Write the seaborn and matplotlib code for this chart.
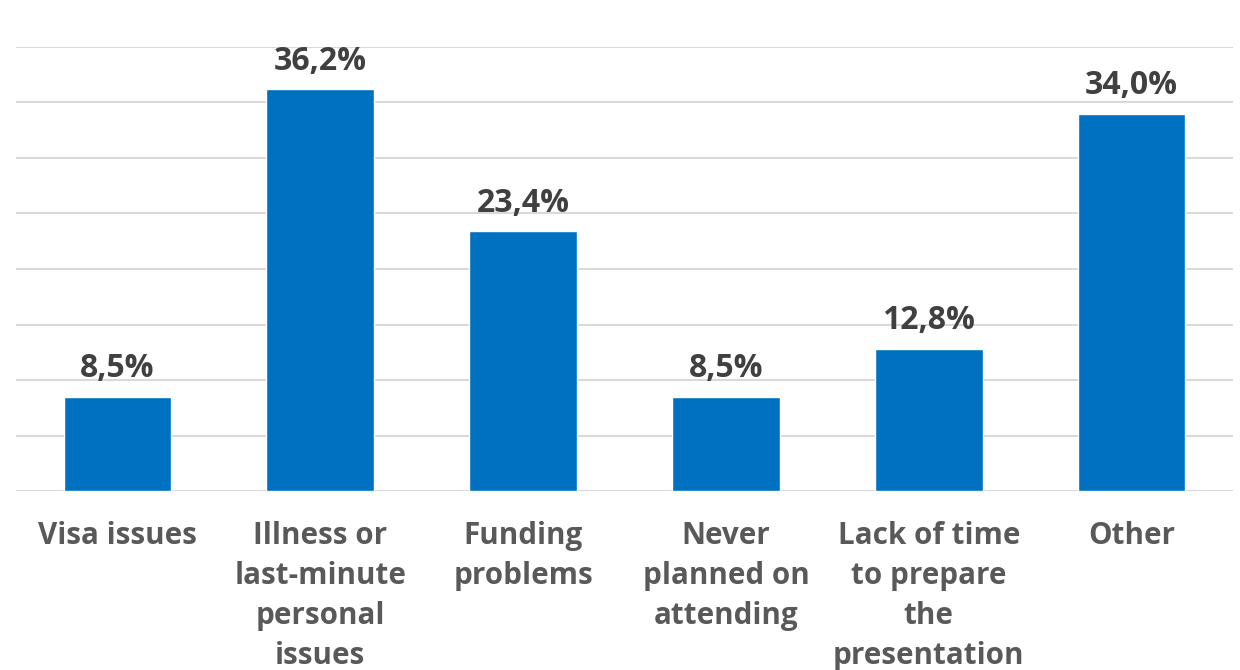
import matplotlib
matplotlib.use("Agg")
import matplotlib.pyplot as plt
import seaborn as sns
import pandas as pd

categories = ["Visa issues", "Illness or\nlast-minute\npersonal\nissues", "Funding\nproblems",
              "Never\nplanned on\nattending", "Lack of time\nto prepare\nthe\npresentation", "Other"]
values = [8.5, 36.2, 23.4, 8.5, 12.8, 34.0]
value_labels = ["8,5%", "36,2%", "23,4%", "8,5%", "12,8%", "34,0%"]

sns.set_theme(style="white")
plt.rcParams['font.family'] = ['Open Sans', 'DejaVu Sans']

df = pd.DataFrame({"cat": categories, "val": values})

fig = plt.figure(figsize=(12.4, 6.7), dpi=100)
ax = fig.add_axes([16/1240, 1-491/670, (1233-16)/1240, (491-47)/670])

sns.barplot(data=df, x="cat", y="val", color="#0070C0", saturation=1, width=0.53, ax=ax)

ax.set_ylim(0, 40)
ax.set_xlim(-0.5, 5.5)
ax.set_yticks(range(0, 41, 5))
ax.yaxis.grid(True, color="#D9D9D9", linewidth=1.5)
ax.set_axisbelow(True)
ax.set_yticklabels([])
ax.tick_params(axis="y", length=0)
ax.tick_params(axis="x", length=0, pad=21.5)
for s in ax.spines.values():
    s.set_visible(False)
ax.set_xlabel("")
ax.set_ylabel("")
for lbl in ax.get_xticklabels():
    lbl.set_fontsize(21.3)
    lbl.set_fontweight("bold")
    lbl.set_color("#595959")
    lbl.set_linespacing(1.43)
    lbl.set_va("top")

for i, (v, t) in enumerate(zip(values, value_labels)):
    ax.annotate(t, (i, v), xytext=(0, 14), textcoords="offset points", ha="center", va="baseline",
                fontsize=23, fontweight="bold", color="#404040", annotation_clip=False)

fig.savefig("out.png", dpi=100, facecolor="white")
